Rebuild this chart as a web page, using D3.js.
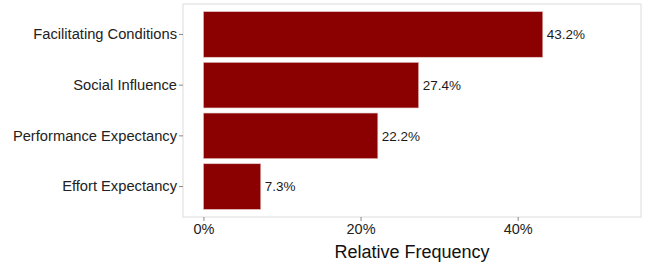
<!DOCTYPE html>
<html>
<head>
<meta charset="utf-8">
<script src="https://cdn.jsdelivr.net/npm/d3@7"></script>
<style>
  body { margin: 0; background: #fff; }
  svg text { font-family: "Liberation Sans", Arial, sans-serif; }
</style>
</head>
<body>
<svg id="chart" width="648" height="267"></svg>
<script>
var categories = ['Facilitating Conditions', 'Social Influence', 'Performance Expectancy', 'Effort Expectancy'];
var values = [43.2, 27.4, 22.2, 7.3];
var xTicks = [0, 20, 40];

var svg = d3.select('#chart');
var panel = { left: 183, top: 4, right: 641, bottom: 217 };

var x = d3.scaleLinear().domain([-2.6, 55.7]).range([panel.left, panel.right]);
var y = d3.scaleBand().domain(categories).range([panel.top, panel.bottom]).paddingInner(0.1).paddingOuter(0.15);

var data = categories.map(function(c, i) { return { name: c, value: values[i] }; });

svg.append('rect')
  .attr('x', panel.left).attr('y', panel.top)
  .attr('width', panel.right - panel.left).attr('height', panel.bottom - panel.top)
  .attr('fill', '#fff').attr('stroke', '#dcdcdc').attr('stroke-width', 1);

svg.selectAll('rect.bar').data(data).enter().append('rect')
  .attr('class', 'bar')
  .attr('x', x(0))
  .attr('y', function(d) { return y(d.name); })
  .attr('width', function(d) { return x(d.value) - x(0); })
  .attr('height', y.bandwidth())
  .attr('fill', '#8b0000')
  .attr('stroke', '#e8c8c8').attr('stroke-width', 0.6);

svg.selectAll('text.val').data(data).enter().append('text')
  .attr('class', 'val')
  .attr('x', function(d) { return x(d.value) + 4; })
  .attr('y', function(d) { return y(d.name) + y.bandwidth() / 2; })
  .attr('dy', '0.35em')
  .attr('font-size', 13.5)
  .attr('fill', '#1a1a1a')
  .text(function(d) { return d.value.toFixed(1) + '%'; });

var yAxis = svg.append('g')
  .attr('transform', 'translate(' + panel.left + ',0)')
  .call(d3.axisLeft(y).tickSize(4).tickPadding(2));
yAxis.select('.domain').remove();
yAxis.selectAll('line').attr('stroke', '#888');
yAxis.selectAll('text').attr('font-size', 14.7).attr('fill', '#222');

var xAxis = svg.append('g')
  .attr('transform', 'translate(0,' + panel.bottom + ')')
  .call(d3.axisBottom(x).tickValues(xTicks).tickSize(4).tickPadding(3).tickFormat(function(d) { return d + '%'; }));
xAxis.select('.domain').remove();
xAxis.selectAll('line').attr('stroke', '#888');
xAxis.selectAll('text').attr('font-size', 14.5).attr('fill', '#222');

svg.append('text')
  .attr('x', (panel.left + panel.right) / 2)
  .attr('y', 258)
  .attr('text-anchor', 'middle')
  .attr('font-size', 18)
  .attr('fill', '#111')
  .text('Relative Frequency');
</script>
</body>
</html>
